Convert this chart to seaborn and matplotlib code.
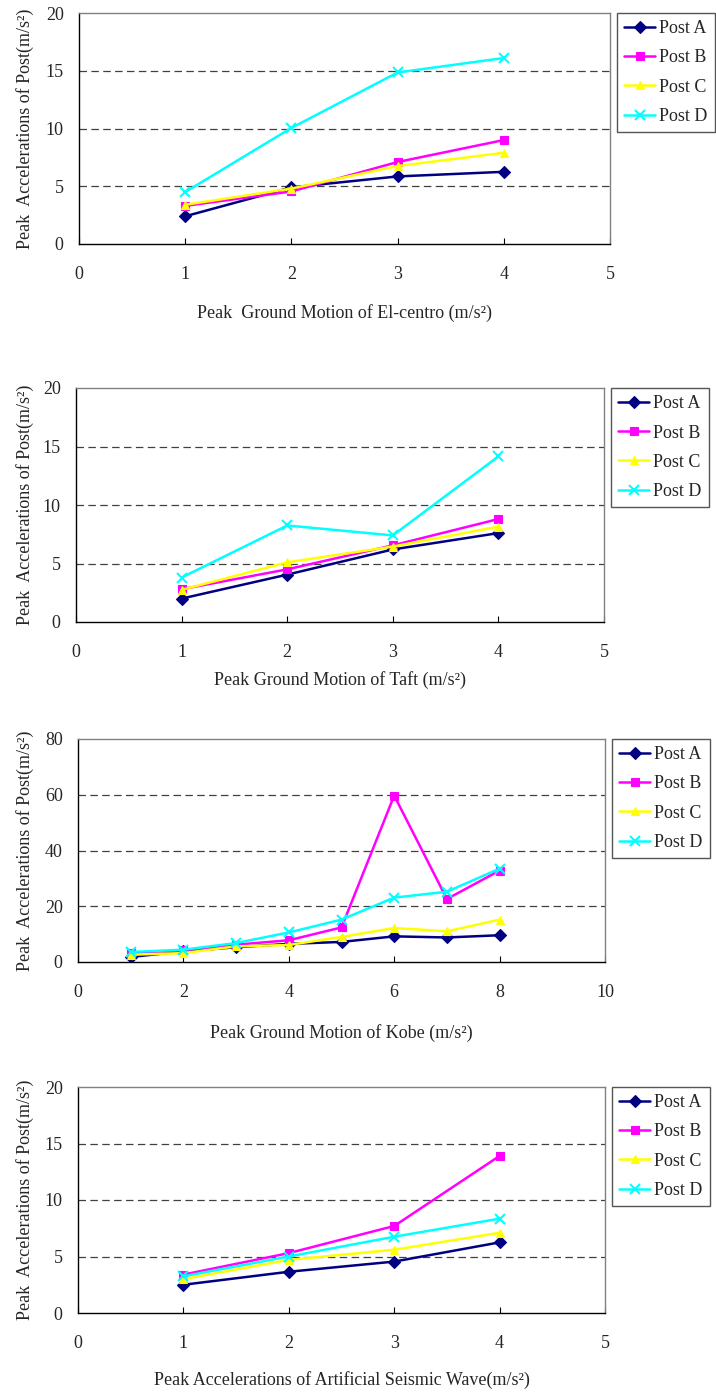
import matplotlib
matplotlib.use('Agg')
import matplotlib.pyplot as plt
import matplotlib.transforms as mtransforms
import pandas as pd
import seaborn as sns

# data
posts = ['Post A', 'Post B', 'Post C', 'Post D']
colors = ['#000080', '#FF00FF', '#FFFF00', '#00FFFF']
markers = ['D', 's', '^', 'x']

x_elcentro = [1, 2, 3, 4]
elcentro_a = [2.4, 4.9, 5.85, 6.25]
elcentro_b = [3.3, 4.55, 7.1, 9.0]
elcentro_c = [3.4, 4.8, 6.75, 7.9]
elcentro_d = [4.5, 10.05, 14.85, 16.1]

x_taft = [1, 2, 3, 4]
taft_a = [2.0, 4.05, 6.2, 7.6]
taft_b = [2.8, 4.5, 6.55, 8.8]
taft_c = [2.75, 5.1, 6.45, 8.15]
taft_d = [3.8, 8.25, 7.4, 14.15]

x_kobe = [1, 2, 3, 4, 5, 6, 7, 8]
kobe_a = [1.8, 3.8, 5.3, 6.5, 7.2, 9.2, 8.8, 9.6]
kobe_b = [3.2, 4.2, 6.2, 7.8, 12.4, 59.7, 22.6, 32.8]
kobe_c = [2.6, 3.2, 5.6, 6.1, 9.0, 12.2, 11.0, 15.2]
kobe_d = [3.6, 4.4, 6.8, 10.6, 15.2, 23.1, 25.2, 33.5]

x_artificial = [1, 2, 3, 4]
artificial_a = [2.5, 3.65, 4.55, 6.25]
artificial_b = [3.4, 5.3, 7.7, 13.9]
artificial_c = [3.0, 4.7, 5.6, 7.1]
artificial_d = [3.25, 5.0, 6.75, 8.35]

panels = [
    dict(x=x_elcentro, ys=[elcentro_a, elcentro_b, elcentro_c, elcentro_d],
         xlabel='Peak  Ground Motion of El-centro (m/s²)', xmax=5, xstep=1, ymax=20, ystep=5,
         box=(79, 13, 610, 244), xlab_top=304),
    dict(x=x_taft, ys=[taft_a, taft_b, taft_c, taft_d],
         xlabel='Peak Ground Motion of Taft (m/s²)', xmax=5, xstep=1, ymax=20, ystep=5,
         box=(76, 388, 604, 622), xlab_top=671),
    dict(x=x_kobe, ys=[kobe_a, kobe_b, kobe_c, kobe_d],
         xlabel='Peak Ground Motion of Kobe (m/s²)', xmax=10, xstep=2, ymax=80, ystep=20,
         box=(78, 739, 605, 962), xlab_top=1024),
    dict(x=x_artificial, ys=[artificial_a, artificial_b, artificial_c, artificial_d],
         xlabel='Peak Accelerations of Artificial Seismic Wave(m/s²)', xmax=5, xstep=1, ymax=20, ystep=5,
         box=(78, 1087, 605, 1313), xlab_top=1371),
]

W, H = 716, 1396


def main():
    sns.set_style('white')
    plt.rcParams['font.family'] = ['Liberation Serif', 'DejaVu Serif']

    fig = plt.figure(figsize=(W / 100, H / 100), dpi=100)

    for p in panels:
        l, t, r, b = p['box']
        ax = fig.add_axes([l / W, 1 - b / H, (r - l) / W, (b - t) / H])

        for name, ys, col, mk in zip(posts, p['ys'], colors, markers):
            df = pd.DataFrame({'x': p['x'], 'y': ys})
            sns.lineplot(data=df, x='x', y='y', ax=ax, color=col, marker=mk,
                         markersize=6 if mk != 'x' else 7, markeredgecolor=col,
                         markeredgewidth=1.5 if mk == 'x' else 0.8,
                         linewidth=1.8, label=name, legend=False)

        # dashed horizontal gridlines, as in the original spreadsheet chart
        for yv in range(p['ystep'], p['ymax'], p['ystep']):
            ax.axhline(yv, color='#404040', linewidth=0.9, linestyle=(0, (6, 3.5)), zorder=0)

        ax.set_xlim(0, p['xmax'])
        ax.set_ylim(0, p['ymax'])
        ax.set_xticks(range(0, p['xmax'] + 1, p['xstep']))
        ax.set_yticks(range(0, p['ymax'] + 1, p['ystep']))
        ax.tick_params(axis='x', direction='in', length=4, width=0.8, pad=16, labelsize=13,
                       bottom=True, color='black')
        ax.tick_params(axis='y', length=0, pad=11, labelsize=13)
        for s in ['left', 'bottom']:
            ax.spines[s].set_color('black')
            ax.spines[s].set_linewidth(1)
        for s in ['top', 'right']:
            ax.spines[s].set_color('#808080')
            ax.spines[s].set_linewidth(1)

        ax.set_xlabel(p['xlabel'], fontsize=13)
        ax.xaxis.set_label_coords(0.5, 1 - p['xlab_top'] / H,
                                  transform=mtransforms.blended_transform_factory(ax.transAxes, fig.transFigure))
        ax.set_ylabel('Peak  Accelerations of Post(m/s²)', fontsize=13)
        ax.yaxis.set_label_coords(34 / W, 0.5,
                                  transform=mtransforms.blended_transform_factory(fig.transFigure, ax.transAxes))

        leg = ax.legend(loc='upper left', bbox_to_anchor=(1 + 7 / (r - l), 1.0), fontsize=13,
                        frameon=True, fancybox=False, edgecolor='#555555', framealpha=1,
                        handlelength=1.7, handletextpad=0.25, labelspacing=0.68,
                        borderpad=0.4, borderaxespad=0)
        leg.get_frame().set_linewidth(1)

    fig.savefig('out.png', dpi=100)
    plt.close(fig)


if __name__ == '__main__':
    main()
